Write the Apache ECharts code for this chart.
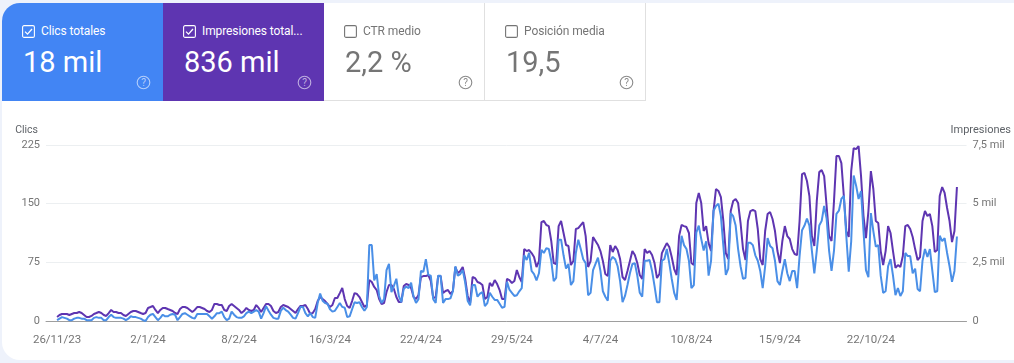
<!DOCTYPE html>
<html><head><meta charset="utf-8">
<script src="https://cdn.jsdelivr.net/npm/echarts@6/dist/echarts.min.js"></script>
<style>
html,body{margin:0;padding:0;width:1014px;height:363px;overflow:hidden;background:#eef2fb;font-family:Roboto,sans-serif}
#sheet{position:absolute;left:2px;top:3px;width:1030px;height:357px;background:#fff;border-radius:18px 0 0 18px}
#main{position:absolute;left:0;top:0;width:1014px;height:363px}
.card{position:absolute;top:3px;width:161px;height:98px;box-sizing:border-box;color:#fff}
.card.off{color:#757575;border-bottom:1px solid #e0e0e0;border-right:1px solid #e0e0e0}
.lab{position:absolute;left:39px;top:20px;font-size:12px;line-height:16px;white-space:nowrap;letter-spacing:-.1px}
.val{position:absolute;left:21px;top:40px;font-size:29px;line-height:38px;white-space:nowrap}
.chk{position:absolute;left:20px;top:22px;width:13px;height:13px}
.hlp{position:absolute;left:134px;top:72px;width:15px;height:15px}
</style></head><body>
<div id="sheet"></div>
<div id="main"></div>
<div class="card" style="left:2px;background:#4285f4;border-top-left-radius:18px">
 <svg class="chk" viewBox="0 0 13 13"><rect x=".6" y=".6" width="11.8" height="11.8" rx="1.5" fill="none" stroke="#fff" stroke-width="1.1"/><path d="M3 6.6l2.5 2.5L10 4" fill="none" stroke="#fff" stroke-width="1.3"/></svg>
 <div class="lab">Clics totales</div><div class="val">18 mil</div>
 <svg class="hlp" viewBox="0 0 15 15"><circle cx="7.5" cy="7.5" r="6.3" fill="none" stroke="#fff" stroke-opacity=".6" stroke-width="1.1"/><text x="7.5" y="11" text-anchor="middle" font-size="10" fill="#fff" fill-opacity=".6" font-family="Roboto">?</text></svg>
</div>
<div class="card" style="left:163px;background:#5e35b1">
 <svg class="chk" viewBox="0 0 13 13"><rect x=".6" y=".6" width="11.8" height="11.8" rx="1.5" fill="none" stroke="#fff" stroke-width="1.1"/><path d="M3 6.6l2.5 2.5L10 4" fill="none" stroke="#fff" stroke-width="1.3"/></svg>
 <div class="lab">Impresiones total...</div><div class="val">836 mil</div>
 <svg class="hlp" viewBox="0 0 15 15"><circle cx="7.5" cy="7.5" r="6.3" fill="none" stroke="#fff" stroke-opacity=".6" stroke-width="1.1"/><text x="7.5" y="11" text-anchor="middle" font-size="10" fill="#fff" fill-opacity=".6" font-family="Roboto">?</text></svg>
</div>
<div class="card off" style="left:324px">
 <svg class="chk" viewBox="0 0 13 13"><rect x=".6" y=".6" width="11.8" height="11.8" rx="1.5" fill="none" stroke="#757575" stroke-width="1.1"/></svg>
 <div class="lab">CTR medio</div><div class="val">2,2 %</div>
 <svg class="hlp" viewBox="0 0 15 15"><circle cx="7.5" cy="7.5" r="6.3" fill="none" stroke="#8a8a8a" stroke-width="1.1"/><text x="7.5" y="11" text-anchor="middle" font-size="10" fill="#8a8a8a" font-family="Roboto">?</text></svg>
</div>
<div class="card off" style="left:485px">
 <svg class="chk" viewBox="0 0 13 13"><rect x=".6" y=".6" width="11.8" height="11.8" rx="1.5" fill="none" stroke="#757575" stroke-width="1.1"/></svg>
 <div class="lab">Posición media</div><div class="val">19,5</div>
 <svg class="hlp" viewBox="0 0 15 15"><circle cx="7.5" cy="7.5" r="6.3" fill="none" stroke="#8a8a8a" stroke-width="1.1"/><text x="7.5" y="11" text-anchor="middle" font-size="10" fill="#8a8a8a" font-family="Roboto">?</text></svg>
</div>
<script>
const startDate = [2023, 10, 26];
const xTickLabels = ['26/11/23','2/1/24','8/2/24','16/3/24','22/4/24','29/5/24','4/7/24','10/8/24','15/9/24','22/10/24'];

const clicks = [
1,3,5,4,3,1,1,3,4,4,3,3,1,1,1,4,5,4,4,1,1,5,8,5,4,4,4,3,1,3,6,5,5,4,3,1,0,5,8,9,5,1,4,8,6,6,8,9,8,1,5,9,10,8,6,4,3,9,
9,9,9,9,6,3,6,10,10,12,5,1,3,12,8,5,4,4,6,10,12,10,12,14,12,3,10,19,13,8,4,3,3,13,17,14,12,8,4,3,10,18,18,10,6,10,5,4,23,35,26,23,22,15,12,13,18,
23,18,17,5,6,15,24,23,24,18,13,18,97,97,52,60,32,23,28,65,73,37,45,54,32,24,41,44,42,49,31,23,28,64,63,79,59,58,28,23,58,58,23,28,28,29,38,70,58,60,65,49,26,20,46,46,31,35,37,19,23,36,31,27,27,22,17,18,50,40,36,32,33,38,42,84,78,87,64,60,52,61,91,87,93,92,77,51,55,104,104,84,67,73,46,51,87,104,92,79,74,33,36,65,73,81,64,38,31,26,77,82,79,70,51,24,32,46,61,73,74,58,36,31,77,77,78,64,45,24,24,77,79,92,
74,54,36,27,70,109,97,92,77,42,46,113,122,105,90,102,58,77,141,147,150,134,96,59,67,138,134,122,92,70,54,55,100,100,97,84,77,64,42,70,106,96,93,77,51,46,64,79,61,51,64,64,42,83,116,122,131,122,90,61,90,122,128,147,131,90,64,90,137,141,156,160,109,63,102,186,173,156,166,115,65,56,138,115,95,97,58,36,38,70,79,58,33,42,32,38,87,83,83,61,67,41,38,77,92,82,92,64,37,38,109,102,106,87,70,50,64,108
];
const impressions = [
170,255,300,300,300,255,300,340,340,385,340,255,170,170,215,300,340,385,340,255,215,340,470,385,385,340,340,255,215,300,385,425,425,385,340,300,340,555,595,640,470,340,470,555,555,510,470,425,340,300,510,595,595,555,470,385,470,595,
595,555,510,425,385,470,725,725,680,680,470,425,640,725,640,555,470,340,425,555,470,425,470,680,555,385,555,725,725,640,425,340,385,595,680,640,595,510,425,340,510,640,640,680,510,300,340,510,850,1020,935,850,725,595,680,980,980,
1190,1405,935,640,555,850,1190,1150,1020,810,595,680,1745,1660,1450,1320,935,725,765,1235,1535,1535,1365,1020,810,810,1490,1575,1535,1405,1020,935,1110,1875,1915,1915,1960,1705,980,1020,1915,1915,1190,1280,1320,1150,1280,2300,2045,2130,2300,1790,1065,765,1875,1830,1660,1620,1535,935,1020,1620,1490,1745,1575,1320,935,935,1790,1745,1620,1705,2170,1875,1660,3065,2980,3025,2895,2725,2300,2555,4215,4260,4090,4045,3410,2470,2430,4045,4260,3750,3240,3195,2385,2555,3920,3960,4090,4215,3620,2300,2555,3580,3410,3240,2980,2555,2000,1915,3240,2940,3195,3025,2640,1875,1745,2130,2555,2980,2810,2470,1960,1790,3065,2895,2980,2810,2470,1830,2000,2895,3110,3320,
3150,2725,2215,1960,3620,4090,4045,4005,3750,2470,2385,5025,5455,5025,3835,4045,3320,2980,4685,5625,5540,5280,4260,2895,2640,4685,5110,5195,5025,4175,3065,2600,4260,4685,4730,4685,3920,2640,2385,3835,4560,4645,4345,3835,2980,2470,3410,4045,3620,3495,3065,2855,2810,4260,6260,6305,5965,5325,3620,3195,5110,6345,6430,6175,4900,3620,3410,5110,7030,7030,6730,5325,3835,3580,6390,7370,7325,7455,6175,4475,3535,4685,6390,5625,4260,4175,2980,2385,2980,4045,3750,2980,2260,2385,2300,2770,4045,4090,3920,3580,3065,2600,2725,4260,4685,4475,4560,4045,2940,3025,5325,5710,5455,4815,4260,3365,3835,5710
];

const DAY = 86400000;
const dayOf = i => new Date(startDate[0], startDate[1], startDate[2] + i).getTime();
const parseLabel = s => { const p = s.split('/'); return new Date(2000 + +p[2], +p[1] - 1, +p[0]).getTime(); };
const fmtDate = v => { const d = new Date(v); return d.getDate() + '/' + (d.getMonth() + 1) + '/' + String(d.getFullYear()).slice(2); };
const fmtImp = v => v === 0 ? '0' : String(v / 1000).replace('.', ',') + ' mil';
const toPairs = arr => arr.map((v, i) => [dayOf(i), v]);
const tickFont = { color: '#757575', fontSize: 11, fontFamily: 'Roboto' };

const chart = echarts.init(document.getElementById('main'));
chart.setOption({
  animation: false,
  grid: { left: 46, right: 47, top: 145, bottom: 42 },
  xAxis: {
    type: 'value',
    min: dayOf(0) - 4.5 * DAY,
    max: dayOf(366) + 3.9 * DAY,
    axisLine: { show: true, onZero: false, lineStyle: { color: '#9e9e9e', width: 1 } },
    axisTick: { show: false },
    splitLine: { show: false },
    axisLabel: { ...tickFont, fontSize: 11.5, margin: 13, hideOverlap: false,
      customValues: xTickLabels.map(parseLabel), formatter: fmtDate }
  },
  yAxis: [
    { type: 'value', min: 0, max: 225, interval: 75, name: 'Clics', nameLocation: 'end', nameGap: 9,
      nameTextStyle: { color: '#5f6368', fontSize: 10.5, fontFamily: 'Roboto', align: 'right', padding: [0, 8, 0, 0] },
      axisLine: { show: false }, axisTick: { show: false },
      splitLine: { show: true, lineStyle: { color: '#eceff1', width: 1 } },
      axisLabel: { ...tickFont, margin: 6 } },
    { type: 'value', min: 0, max: 7500, interval: 2500, name: 'Impresiones', nameLocation: 'end', nameGap: 9,
      nameTextStyle: { color: '#5f6368', fontSize: 11, fontFamily: 'Roboto', align: 'left', padding: [0, 0, 0, -16] },
      axisLine: { show: false }, axisTick: { show: false }, splitLine: { show: false },
      axisLabel: { ...tickFont, margin: 6, formatter: fmtImp } }
  ],
  series: [
    { name: 'Impresiones', type: 'line', yAxisIndex: 1, data: toPairs(impressions), showSymbol: false, z: 2,
      lineStyle: { color: '#5e35b1', width: 2 }, itemStyle: { color: '#5e35b1' } },
    { name: 'Clics', type: 'line', yAxisIndex: 0, data: toPairs(clicks), showSymbol: false, z: 3,
      lineStyle: { color: '#4a8fe7', width: 2 }, itemStyle: { color: '#4a8fe7' } }
  ]
});
</script>
</body></html>
